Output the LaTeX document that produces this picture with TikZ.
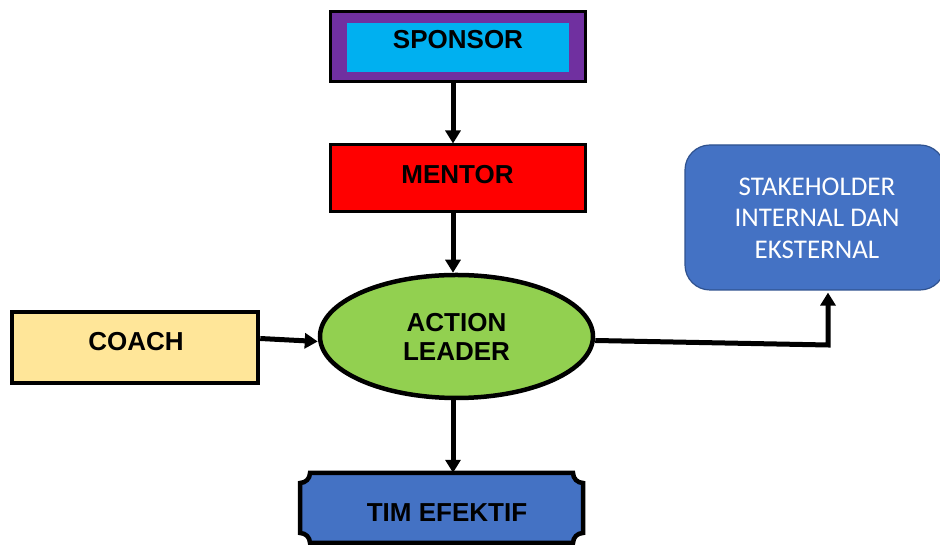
\documentclass[tikz,border=0pt]{standalone}
\usepackage{fontspec}
\setmainfont{Liberation Sans}
\newfontfamily\calib{Carlito}
\usetikzlibrary{arrows.meta,shapes.geometric}

\definecolor{sponsorpurple}{HTML}{7030A0}
\definecolor{sponsorcyan}{HTML}{00B0F0}
\definecolor{leadergreen}{HTML}{92D050}
\definecolor{coachyellow}{HTML}{FFE699}
\definecolor{timblue}{HTML}{4472C4}
\definecolor{stakeborder}{HTML}{2F528F}

\tikzset{
  boxtext/.style={font=\fontsize{26}{29}\selectfont\bfseries, align=center},
  flow/.style={line width=5pt, -{Triangle[length=13pt,width=15pt]}}
}

\begin{document}
\begin{tikzpicture}[x=1pt, y=1pt]

\useasboundingbox (0,0) rectangle (940,545);

% sponsor on top, box inside a box
\node[rectangle, draw=black, line width=3pt, fill=sponsorpurple,
      minimum width=255pt, minimum height=70pt] (sponsor) at (457.5,498) {};
\node[rectangle, fill=sponsorcyan, minimum width=222pt, minimum height=49pt]
      (sponsorin) at (458,497.5) {};
\node[boxtext] (sponsortext) at (458,505) {SPONSOR};

% mentor
\node[rectangle, draw=black, line width=3pt, fill=red,
      minimum width=255pt, minimum height=67pt] (mentor) at (457.5,366.5) {};
\node[boxtext] (mentortext) at (457.5,370) {MENTOR};

% action leader in the middle
\node[ellipse, draw=black, line width=4.5pt, fill=leadergreen,
      minimum width=273pt, minimum height=123pt, boxtext] (leader) at (456.5,208.5)
      {ACTION\\LEADER};

% coach on the left
\node[rectangle, draw=black, line width=4.5pt, fill=coachyellow,
      minimum width=246pt, minimum height=71pt] (coach) at (135,197.5) {};
\node[boxtext] (coachtext) at (136,203) {COACH};

% tim efektif, plaque with hollow corners
\node[minimum width=283pt, minimum height=70pt] (tim) at (441.5,37) {};
\filldraw[fill=timblue, draw=black, line width=4.5pt]
  (310,72) -- (573,72) arc[start angle=180, end angle=270, radius=10]
  -- (583,12) arc[start angle=90, end angle=180, radius=10]
  -- (310,2) arc[start angle=0, end angle=90, radius=10]
  -- (300,62) arc[start angle=270, end angle=360, radius=10] -- cycle;
\node[boxtext] (timtext) at (447,32) {TIM EFEKTIF};

% stakeholder on the right
\node[rectangle, rounded corners=25pt, draw=stakeborder, line width=1.2pt, fill=timblue,
      minimum width=260pt, minimum height=145pt] (stake) at (815,327.5) {};
\node[font=\calib\fontsize{27}{31.5}\selectfont, text=white, align=center] (staketext)
      at (817,327) {STAKEHOLDER\\INTERNAL DAN\\EKSTERNAL};

% arrows
\coordinate (turn) at (828,200);
\draw[flow] (sponsor.south -| 453,0) -- (mentor.north -| 453,0);
\draw[flow] (mentor.south -| 453,0) -- (leader.north -| 453,0);
\draw[flow] (leader.south -| 453,0) -- (tim.north -| 453,0);
\draw[flow] ([yshift=9pt]coach.east) -- ([yshift=-5pt]leader.west);
\draw[flow, shorten >=2pt] ([yshift=-4pt]leader.east) -- (turn) -- (turn |- stake.south);

\end{tikzpicture}
\end{document}
